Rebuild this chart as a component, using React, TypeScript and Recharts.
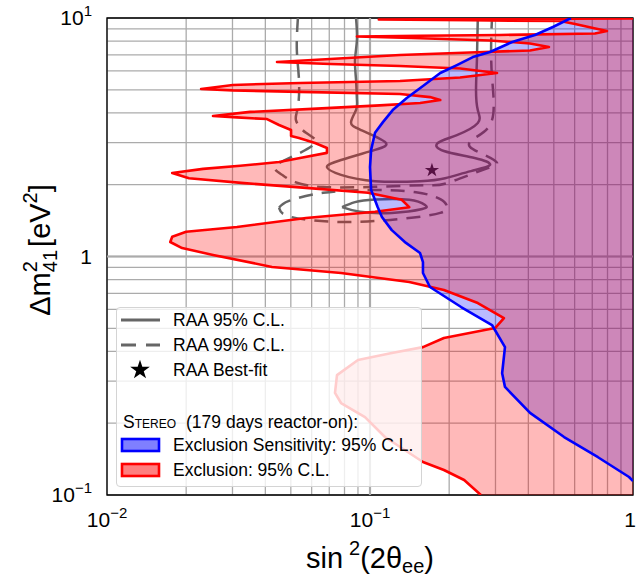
import React from 'react';
import {
  ComposedChart,
  Scatter,
  XAxis,
  YAxis,
  ZAxis,
  CartesianGrid,
  ReferenceLine,
  ReferenceArea,
  Symbols,
} from 'recharts';

const FONT = '"Liberation Sans", Arial, Helvetica, sans-serif';

// axis ticks (minor ones only feed the grid)
const xTicks = [0.01, 0.02, 0.03, 0.04, 0.05, 0.06, 0.07, 0.08, 0.09, 0.1, 0.2, 0.3, 0.4, 0.5, 0.6, 0.7, 0.8, 0.9, 1];
const yTicks = [0.1, 0.2, 0.3, 0.4, 0.5, 0.6, 0.7, 0.8, 0.9, 1, 2, 3, 4, 5, 6, 7, 8, 9, 10];
const xTickLabels: Record<string, [string, string]> = { '0.01': ['10', '\u22122'], '0.1': ['10', '\u22121'], '1': ['1', ''] };
const yTickLabels: Record<string, [string, string]> = { '0.1': ['10', '\u22121'], '1': ['1', ''], '10': ['10', '1'] };

// STEREO exclusion contour, [sin^2(2theta), dm^2]
const redEdge = [
  [1, 9.95], [0.108, 9.86], [0.24, 9.78], [0.528, 9.71], [0.602, 9.44], [0.705, 9.08], [0.796, 8.82],
  [0.717, 8.61], [0.312, 8.49], [0.155, 8.42], [0.0892, 8.36], [0.155, 8.23], [0.286, 8.05], [0.406, 7.82],
  [0.479, 7.56], [0.406, 7.31], [0.24, 7.17], [0.13, 7.0], [0.0705, 6.73], [0.0443, 6.54], [0.0705, 6.41],
  [0.13, 6.29], [0.22, 6.14], [0.304, 5.88], [0.22, 5.63], [0.13, 5.44], [0.0542, 5.34], [0.0301, 5.24],
  [0.0228, 5.04], [0.0301, 4.97], [0.0542, 4.9], [0.13, 4.8], [0.169, 4.66], [0.185, 4.53], [0.155, 4.4],
  [0.109, 4.3], [0.0629, 4.17], [0.035, 4.04], [0.0253, 3.88], [0.0312, 3.83], [0.0406, 3.77], [0.0451, 3.56],
  [0.0501, 3.39], [0.0501, 3.2], [0.0537, 3.14], [0.0618, 2.99], [0.0686, 2.85], [0.0686, 2.72], [0.0542, 2.59],
  [0.0451, 2.49], [0.0321, 2.4], [0.0232, 2.33], [0.0177, 2.24], [0.0205, 2.13], [0.0332, 2.03], [0.0571, 1.94],
  [0.0983, 1.85], [0.132, 1.73], [0.141, 1.61], [0.1045, 1.54], [0.0571, 1.45], [0.0312, 1.33], [0.02, 1.27],
  [0.0177, 1.21], [0.0174, 1.15], [0.0193, 1.085], [0.0253, 1.015], [0.0424, 0.904], [0.0776, 0.853],
  [0.141, 0.782], [0.191, 0.724], [0.257, 0.638], [0.323, 0.552], [0.299, 0.501], [0.191, 0.455],
  [0.159, 0.417], [0.121, 0.394], [0.09, 0.368], [0.0749, 0.318], [0.0736, 0.268], [0.0776, 0.243],
  [0.0957, 0.212], [0.114, 0.175], [0.141, 0.15], [0.159, 0.1375], [0.191, 0.1273], [0.228, 0.1156], [0.264, 0.1],
];
const redCorners = [[1, 0.1]];

// exclusion sensitivity contour
const blueEdge = [
  [0.581, 10], [0.496, 9.17], [0.424, 8.49], [0.347, 7.93], [0.286, 7.2], [0.246, 6.86], [0.214, 6.35],
  [0.185, 5.88], [0.159, 5.19], [0.138, 4.62], [0.122, 4.11], [0.112, 3.66], [0.1045, 3.3], [0.101, 2.8],
  [0.1, 2.37], [0.101, 1.9], [0.107, 1.61], [0.111, 1.465], [0.121, 1.29], [0.137, 1.14], [0.155, 1.034],
  [0.159, 0.948], [0.159, 0.853], [0.169, 0.745], [0.222, 0.614], [0.291, 0.516], [0.326, 0.417],
  [0.318, 0.324], [0.326, 0.284], [0.406, 0.221], [0.547, 0.175], [0.736, 0.144], [0.966, 0.119], [1, 0.1145],
];
const blueCorners = [[1, 10]];

// RAA allowed regions
const raa95 = [
  [0.0885, 10], [0.0892, 8.09], [0.0877, 6.67], [0.0885, 5.5], [0.0892, 4.53], [0.0885, 4.11], [0.0847, 3.66],
  [0.0924, 3.39], [0.114, 3.02], [0.1045, 2.8], [0.0776, 2.54], [0.0686, 2.37], [0.0776, 2.2], [0.1045, 2.07],
  [0.155, 2.07], [0.193, 2.13], [0.242, 2.28], [0.286, 2.42], [0.25, 2.59], [0.191, 2.77], [0.181, 2.99],
  [0.214, 3.23], [0.257, 3.63], [0.257, 4.11], [0.253, 4.99], [0.255, 6.67], [0.257, 10],
];
const raa95Island = [
  [0.0783, 1.61], [0.0877, 1.69], [0.1045, 1.734], [0.141, 1.73], [0.162, 1.644], [0.158, 1.582],
  [0.121, 1.523], [0.0916, 1.54], [0.0783, 1.61],
];
const raa99 = [
  [0.0532, 10], [0.0527, 7.34], [0.0537, 5.5], [0.0532, 4.23], [0.0523, 3.73], [0.0571, 3.3], [0.0618, 2.99],
  [0.0501, 2.61], [0.0435, 2.37], [0.0463, 2.2], [0.0519, 2.05], [0.0663, 1.955], [0.1045, 1.96], [0.163, 1.99],
  [0.196, 2.03], [0.269, 2.31], [0.304, 2.47], [0.274, 2.66], [0.24, 2.88], [0.25, 3.14], [0.291, 3.73],
  [0.291, 5.66], [0.289, 8.09], [0.291, 10],
];
const raa99Island = [
  [0.0451, 1.6], [0.0492, 1.71], [0.0663, 1.85], [0.1, 1.9], [0.1496, 1.86], [0.185, 1.74], [0.196, 1.63],
  [0.185, 1.523], [0.13, 1.436], [0.0776, 1.395], [0.0501, 1.465], [0.0451, 1.6],
];
const bestFit = [[0.172, 2.3]];

const pts = (a: number[][]) => a.map(([x, y]) => ({ x, y }));

const NoDot = () => <g />;

const XTick = (p: any) => {
  const v = p.payload.value;
  const lab = xTickLabels[String(v)];
  if (!lab) return <g />;
  // the last label sits on the right frame; keep it inside the page
  const atEnd = v === 1;
  return (
    <text x={atEnd ? p.x + 3 : p.x} y={p.y + 32} textAnchor={atEnd ? 'end' : 'middle'} fontFamily={FONT} fontSize={21} fill="#000">
      {lab[0]}
      {lab[1] ? <tspan fontSize={15} dy={-9}>{lab[1]}</tspan> : null}
    </text>
  );
};

const YTick = (p: any) => {
  const lab = yTickLabels[String(p.payload.value)];
  if (!lab) return <g />;
  return (
    <text x={p.x - 15} y={p.y + 7} textAnchor="end" fontFamily={FONT} fontSize={21} fill="#000">
      {lab[0]}
      {lab[1] ? <tspan fontSize={15} dy={-9}>{lab[1]}</tspan> : null}
    </text>
  );
};

const CONTOUR = '#666666';

export default function App() {
  return (
    <div style={{ position: 'relative', width: 637, height: 582, background: '#fff' }}>
      <style>{'body{margin:0}'}</style>
      <ComposedChart width={637} height={582} margin={{ top: 18, right: 4, bottom: 0, left: 0 }}>
        <CartesianGrid stroke="#ababab" strokeWidth={1.3} />
        <XAxis
          type="number"
          dataKey="x"
          scale="log"
          domain={[0.01, 1]}
          ticks={xTicks}
          interval={0}
          allowDataOverflow
          height={87}
          tickSize={0}
          tickMargin={0}
          axisLine={false}
          tick={XTick}
        />
        <YAxis
          type="number"
          dataKey="y"
          scale="log"
          domain={[0.1, 10]}
          ticks={yTicks}
          interval={0}
          allowDataOverflow
          width={107}
          tickSize={0}
          tickMargin={0}
          axisLine={false}
          tick={YTick}
        />
        <ZAxis range={[130, 130]} />
        <ReferenceLine x={0.1} stroke="#ababab" strokeWidth={2.2} />
        <ReferenceLine y={1} stroke="#ababab" strokeWidth={2.2} />

        {/* RAA contours sit under the exclusion fills */}
        <Scatter data={pts(raa95)} shape={NoDot} lineJointType="natural" isAnimationActive={false}
          line={{ stroke: CONTOUR, strokeWidth: 2.5, fill: 'none' }} />
        <Scatter data={pts(raa95Island)} shape={NoDot} lineJointType="natural" isAnimationActive={false}
          line={{ stroke: CONTOUR, strokeWidth: 2.5, fill: 'none' }} />
        <Scatter data={pts(raa99)} shape={NoDot} lineJointType="natural" isAnimationActive={false}
          line={{ stroke: CONTOUR, strokeWidth: 2.5, fill: 'none', strokeDasharray: '14 9' }} />
        <Scatter data={pts(raa99Island)} shape={NoDot} lineJointType="natural" isAnimationActive={false}
          line={{ stroke: CONTOUR, strokeWidth: 2.5, fill: 'none', strokeDasharray: '14 9' }} />
        <Scatter data={pts(bestFit)} shape="star" fill="#222" isAnimationActive={false} />

        {/* exclusion areas */}
        <Scatter data={pts([...blueEdge, ...blueCorners])} shape={NoDot} isAnimationActive={false}
          line={{ fill: 'rgba(0,0,255,0.27)', stroke: 'none' }} />
        <Scatter data={pts([...redEdge, ...redCorners])} shape={NoDot} isAnimationActive={false}
          line={{ fill: 'rgba(255,0,0,0.275)', stroke: 'none' }} />
        <Scatter data={pts(redEdge)} shape={NoDot} isAnimationActive={false}
          line={{ stroke: '#ff0000', strokeWidth: 2.6, fill: 'none', strokeLinejoin: 'round' }} />
        <Scatter data={pts(blueEdge)} shape={NoDot} isAnimationActive={false}
          line={{ stroke: '#0000ff', strokeWidth: 2.6, fill: 'none', strokeLinejoin: 'round' }} />

        <ReferenceArea x1={0.01} x2={1} y1={0.1} y2={10} fill="none" stroke="#000" strokeWidth={1.3} />
      </ComposedChart>

      {/* legend */}
      <div
        style={{
          position: 'absolute', left: 116, top: 307, width: 306, height: 180, boxSizing: 'border-box',
          background: 'rgba(255,255,255,0.8)', border: '1px solid #d4d4d4', borderRadius: 4,
          fontFamily: FONT, fontSize: 17.5, color: '#000',
        }}
      >
        <svg width={306} height={180} style={{ position: 'absolute', left: -1, top: -1 }}>
          <line x1={5} x2={44} y1={13} y2={13} stroke={CONTOUR} strokeWidth={2.8} />
          <line x1={5} x2={44} y1={38} y2={38} stroke={CONTOUR} strokeWidth={2.8} strokeDasharray="15 10" />
          <Symbols cx={24} cy={63} type="star" size={120} fill="#000" />
          <rect x={6} y={132} width={37} height={12} fill="rgba(0,0,255,0.5)" stroke="#0000ff" strokeWidth={2.6} />
          <rect x={6} y={157} width={37} height={12} fill="rgba(255,0,0,0.5)" stroke="#ff0000" strokeWidth={2.6} />
          <g fontFamily={FONT} fontSize={17.5} fill="#000">
            <text x={57} y={19}>RAA 95% C.L.</text>
            <text x={57} y={44}>RAA 99% C.L.</text>
            <text x={57} y={69}>RAA Best-fit</text>
            <text x={7} y={121}>
              <tspan style={{ fontVariant: 'small-caps' }}>Stereo</tspan>
              <tspan dx={10}>(179 days reactor-on):</tspan>
            </text>
            <text x={57} y={144}>Exclusion Sensitivity: 95% C.L.</text>
            <text x={57} y={169}>Exclusion: 95% C.L.</text>
          </g>
        </svg>
      </div>

      {/* axis titles */}
      <svg width={637} height={582} style={{ position: 'absolute', left: 0, top: 0, pointerEvents: 'none' }}>
        <text transform="translate(50,250) rotate(-90)" textAnchor="middle" fontFamily={FONT} fontSize={29} fill="#000">
          <tspan>{'\u0394m'}</tspan>
          <tspan fontSize={20} dy={-13}>2</tspan>
          <tspan fontSize={20} dx={-11} dy={20}>41</tspan>
          <tspan dx={3} dy={-7}>[eV</tspan>
          <tspan fontSize={20} dy={-13}>2</tspan>
          <tspan dy={13}>]</tspan>
        </text>
        <text x={370} y={568} textAnchor="middle" fontFamily={FONT} fontSize={29} fill="#000">
          <tspan>sin</tspan>
          <tspan fontSize={20} dx={6} dy={-13}>2</tspan>
          <tspan dy={13}>(2{'\u03b8'}</tspan>
          <tspan fontSize={20} dy={5}>ee</tspan>
          <tspan dy={-5}>)</tspan>
        </text>
      </svg>
    </div>
  );
}
